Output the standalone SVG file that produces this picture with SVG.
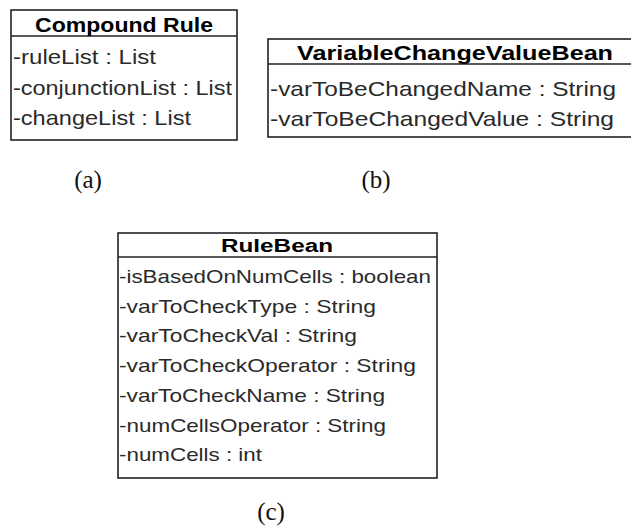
<svg xmlns="http://www.w3.org/2000/svg" width="631" height="529" viewBox="0 0 631 529">
<style>
.box{fill:#fff;stroke:#222;stroke-width:1.6}
.sep{stroke:#222;stroke-width:1.6}
.hd{font-family:"Liberation Sans",Arial,sans-serif;font-weight:bold;fill:#000;text-anchor:middle}
.at{font-family:"Liberation Sans",Arial,sans-serif;fill:#2a2a2a}
.cap{font-family:"Liberation Serif","DejaVu Serif",serif;font-size:25px;fill:#111;text-anchor:middle}
</style>
<rect width="631" height="529" fill="#fff"/>
<g id="compound-rule">
  <rect class="box" x="11" y="10" width="226" height="130"/>
  <line class="sep" x1="11" y1="36" x2="237" y2="36"/>
  <text class="hd" x="124" y="32" font-size="20" textLength="178" lengthAdjust="spacingAndGlyphs">Compound Rule</text>
  <text class="at" x="13" y="64" font-size="21" textLength="143" lengthAdjust="spacingAndGlyphs">-ruleList : List</text>
  <text class="at" x="13" y="95" font-size="21" textLength="219" lengthAdjust="spacingAndGlyphs">-conjunctionList : List</text>
  <text class="at" x="13" y="125" font-size="21" textLength="178" lengthAdjust="spacingAndGlyphs">-changeList : List</text>
</g>
<g id="variable-change-value-bean">
  <rect class="box" x="268" y="39" width="374" height="98"/>
  <line class="sep" x1="268" y1="64" x2="642" y2="64"/>
  <text class="hd" x="455" y="60" font-size="20" textLength="316" lengthAdjust="spacingAndGlyphs">VariableChangeValueBean</text>
  <text class="at" x="270" y="96" font-size="21" textLength="346" lengthAdjust="spacingAndGlyphs">-varToBeChangedName : String</text>
  <text class="at" x="270" y="126" font-size="21" textLength="344" lengthAdjust="spacingAndGlyphs">-varToBeChangedValue : String</text>
</g>
<g id="rule-bean">
  <rect class="box" x="118" y="233" width="319" height="245"/>
  <line class="sep" x1="118" y1="257" x2="437" y2="257"/>
  <text class="hd" x="277" y="252" font-size="18" textLength="112" lengthAdjust="spacingAndGlyphs">RuleBean</text>
  <text class="at" x="119" y="283" font-size="19" textLength="312" lengthAdjust="spacingAndGlyphs">-isBasedOnNumCells : boolean</text>
  <text class="at" x="119" y="312.7" font-size="19" textLength="257" lengthAdjust="spacingAndGlyphs">-varToCheckType : String</text>
  <text class="at" x="119" y="342.4" font-size="19" textLength="238" lengthAdjust="spacingAndGlyphs">-varToCheckVal : String</text>
  <text class="at" x="119" y="372.1" font-size="19" textLength="297" lengthAdjust="spacingAndGlyphs">-varToCheckOperator : String</text>
  <text class="at" x="119" y="401.8" font-size="19" textLength="266" lengthAdjust="spacingAndGlyphs">-varToCheckName : String</text>
  <text class="at" x="119" y="431.5" font-size="19" textLength="267" lengthAdjust="spacingAndGlyphs">-numCellsOperator : String</text>
  <text class="at" x="119" y="461.2" font-size="19" textLength="143" lengthAdjust="spacingAndGlyphs">-numCells : int</text>
</g>
<g id="captions">
  <text class="cap" x="88" y="188">(a)</text>
  <text class="cap" x="376" y="188">(b)</text>
  <text class="cap" x="271" y="520">(c)</text>
</g>
<g id="connectors"/>
</svg>
